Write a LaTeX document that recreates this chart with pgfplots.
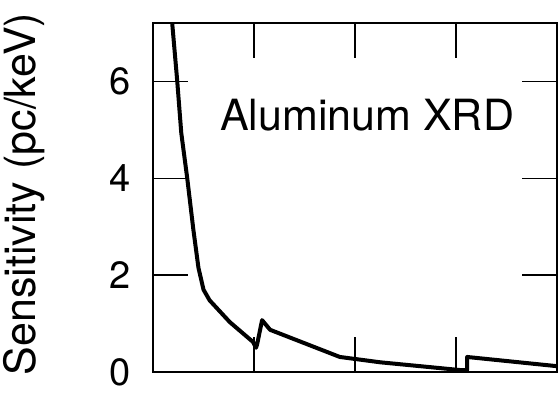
\documentclass[border=0pt]{standalone}
\usepackage{fontspec}
\setmainfont{TeX Gyre Heros}
\usepackage{pgfplots}
\pgfplotsset{compat=1.18}
\begin{document}
\begin{tikzpicture}
\useasboundingbox (0,0) rectangle (558pt,395pt);
\begin{axis}[
  at={(153pt,23pt)}, anchor=south west,
  scale only axis, width=404pt, height=349pt,
  xmin=0, xmax=4, ymin=0, ymax=7.2,
  xtick={1,2,3}, xticklabels={},
  ytick={0,2,4,6},
  tick align=inside, major tick length=35pt,
  xtick pos=both, ytick pos=both,
  axis line style={line width=1.4pt},
  every tick/.style={line width=1.2pt, black},
  /pgf/number format/assume math mode=true,
  yticklabel style={font=\fontsize{38}{42}\selectfont, inner sep=0pt, xshift=-22pt},
  ylabel={Sensitivity (pc/keV)},
  ylabel style={at={(rel axis cs:-0.318,0.51)}, anchor=center, font=\fontsize{43}{48}\selectfont},
  clip=true,
]
\addplot[black, line width=4pt, line join=round] coordinates {
  (0.18,7.5) (0.19,7.2) (0.24,6.0) (0.28,4.93) (0.34,3.98) (0.40,2.93)
  (0.45,2.15) (0.50,1.70) (0.56,1.48) (0.76,1.03) (0.99,0.62) (1.02,0.50) (1.03,0.56)
  (1.08,1.07) (1.16,0.87) (1.85,0.31) (2.25,0.20) (3.04,0.04) (3.11,0.04)
  (3.11,0.31) (4.0,0.12)
};
\node[font=\fontsize{43}{48}\selectfont] at (axis cs:2.12,5.3) {Aluminum XRD};
\end{axis}
\end{tikzpicture}
\end{document}
